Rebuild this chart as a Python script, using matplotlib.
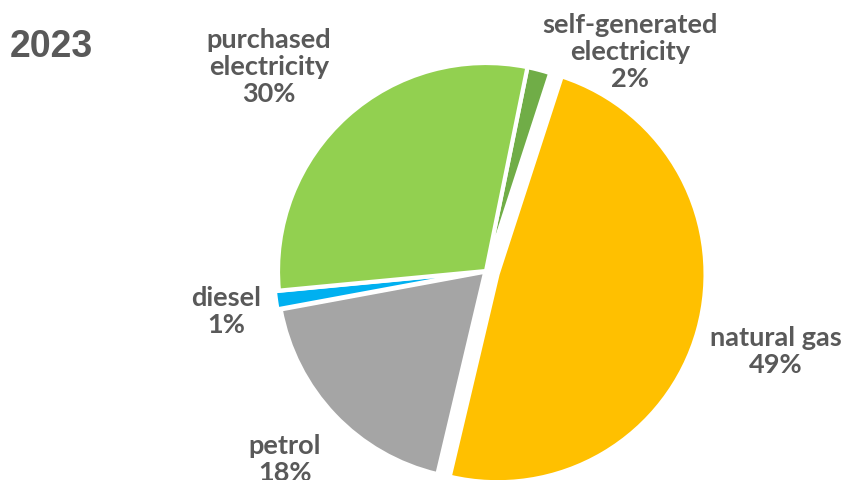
import matplotlib.pyplot as plt

# energy use by source, 2023 (clockwise from the top)
sources = ["self-generated\nelectricity", "natural gas", "petrol", "diesel",
           "purchased\nelectricity"]
shares = [1.8, 48.7, 18.4, 1.4, 29.7]
colors = ["#70AD47", "#FFC000", "#A5A5A5", "#00B0F0", "#92D050"]

# label anchors: centre x and baseline of the last line (pixels from the top)
label_pos = [(630, 87), (776, 373), (285, 481), (226, 333), (269, 102)]

W, H = 844, 481
text_color = "#595959"
radius = 208
# wedge offsets in pixels (pie explode is in data units)
explode = [0, 12, 1, 4, 0]

fig = plt.figure(figsize=(W / 100, H / 100), dpi=100)
ax = fig.add_axes([0, 0, 1, 1])

ax.pie(shares, colors=colors, explode=explode, startangle=78.5,
       counterclock=False, center=(486, H - 272), radius=radius,
       wedgeprops=dict(edgecolor="white", linewidth=3.0), frame=True)
ax.set_xlim(0, W)
ax.set_ylim(0, H)
ax.set_aspect("equal")
ax.axis("off")

for name, val, (px, py) in zip(sources, shares, label_pos):
    ax.text(px, H - py, f"{name}\n{val:.0f}%", ha="center", va="baseline",
            fontsize=19.5, fontweight="bold", color=text_color,
            family="Lato", linespacing=1.15)

fig.text(10 / W, 1 - 57 / H, "2023", ha="left", va="baseline", fontsize=27,
         fontweight="bold", color=text_color, family="Liberation Sans")

fig.savefig("out.png", dpi=100)
